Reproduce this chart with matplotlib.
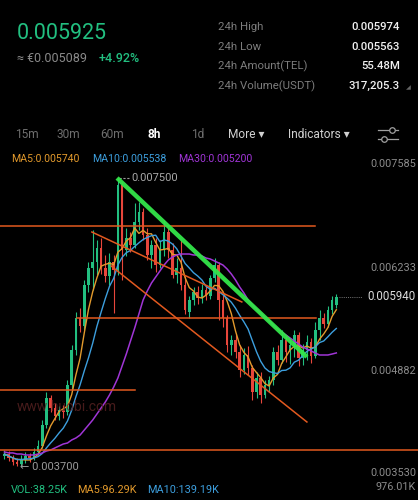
import numpy as np
import pandas as pd
import matplotlib
matplotlib.use("Agg")
import matplotlib.pyplot as plt

# 8h candles, TEL/USDT
opens = [0.003842, 0.003868, 0.003816, 0.003763, 0.003737, 0.003789, 0.003842, 0.003816, 0.003895, 0.003974,
         0.004250, 0.004606, 0.004474, 0.004369, 0.004448, 0.004422, 0.004778, 0.005239, 0.005661, 0.005555,
         0.006096, 0.006320, 0.006399, 0.006583, 0.006320, 0.006214, 0.006399, 0.006293, 0.007414, 0.006557,
         0.006715, 0.006623, 0.006926, 0.007058, 0.006755, 0.006491, 0.006623, 0.006359, 0.006557, 0.006794,
         0.006557, 0.006227, 0.006320, 0.006096, 0.005740, 0.005898, 0.006003, 0.005924, 0.006030, 0.005951,
         0.006188, 0.006359, 0.005898, 0.005661, 0.005305, 0.005371, 0.005213, 0.004975, 0.005173, 0.005002,
         0.004685, 0.004870, 0.004646, 0.004778, 0.004843, 0.005213, 0.005107, 0.005371, 0.005213, 0.005305,
         0.005437, 0.005134, 0.005239, 0.005344, 0.005160, 0.005502, 0.005661, 0.005582, 0.005766, 0.005832]
closes = [0.003868, 0.003816, 0.003763, 0.003737, 0.003789, 0.003842, 0.003816, 0.003895, 0.003974, 0.004250,
          0.004606, 0.004474, 0.004369, 0.004448, 0.004422, 0.004778, 0.005239, 0.005661, 0.005555, 0.006096,
          0.006320, 0.006399, 0.006583, 0.006320, 0.006214, 0.006399, 0.006293, 0.007414, 0.006557, 0.006715,
          0.006623, 0.006926, 0.007058, 0.006755, 0.006491, 0.006623, 0.006359, 0.006557, 0.006794, 0.006557,
          0.006227, 0.006320, 0.006096, 0.005766, 0.005898, 0.006003, 0.005924, 0.006030, 0.005951, 0.006188,
          0.006359, 0.005898, 0.005661, 0.005305, 0.005371, 0.005213, 0.004975, 0.005173, 0.005002, 0.004685,
          0.004870, 0.004646, 0.004778, 0.004843, 0.005213, 0.005107, 0.005371, 0.005213, 0.005305, 0.005437,
          0.005134, 0.005239, 0.005344, 0.005160, 0.005502, 0.005661, 0.005582, 0.005766, 0.005898, 0.005940]
highs = [0.003921, 0.003908, 0.003855, 0.003816, 0.003855, 0.003895, 0.003882, 0.003948, 0.004053, 0.004316,
         0.004685, 0.004646, 0.004540, 0.004501, 0.004514, 0.004843, 0.005305, 0.005740, 0.005793, 0.006162,
         0.006399, 0.006821, 0.006689, 0.006715, 0.006491, 0.006517, 0.006491, 0.007500, 0.007453, 0.006847,
         0.006794, 0.007176, 0.007190, 0.007111, 0.006847, 0.006689, 0.006715, 0.006689, 0.006952, 0.006847,
         0.006649, 0.006451, 0.006689, 0.006214, 0.005951, 0.006069, 0.006082, 0.006109, 0.006096, 0.006227,
         0.006451, 0.006399, 0.005964, 0.005700, 0.005437, 0.005450, 0.005305, 0.005265, 0.005292, 0.005041,
         0.004949, 0.004949, 0.004843, 0.004896, 0.005278, 0.005305, 0.005502, 0.005423, 0.005397, 0.005502,
         0.005476, 0.005318, 0.005437, 0.005397, 0.005608, 0.005766, 0.005727, 0.005819, 0.005951, 0.005977]
lows = [0.003802, 0.003776, 0.003724, 0.003710, 0.003700, 0.003750, 0.003763, 0.003789, 0.003855, 0.003948,
        0.004211, 0.004422, 0.004316, 0.004316, 0.004343, 0.004382, 0.004712, 0.005173, 0.005476, 0.005502,
        0.006003, 0.006030, 0.006227, 0.006241, 0.006135, 0.006096, 0.005727, 0.006227, 0.006162, 0.006478,
        0.006531, 0.006583, 0.006821, 0.006689, 0.006425, 0.006320, 0.006267, 0.006320, 0.006478, 0.006451,
        0.006188, 0.006122, 0.006030, 0.005713, 0.005661, 0.005832, 0.005845, 0.005858, 0.005898, 0.005911,
        0.006135, 0.005634, 0.005542, 0.005213, 0.005173, 0.005134, 0.004883, 0.004923, 0.004910, 0.004580,
        0.004606, 0.004540, 0.004606, 0.004685, 0.004778, 0.005041, 0.005068, 0.005081, 0.005054, 0.005147,
        0.005028, 0.005041, 0.005107, 0.005068, 0.005134, 0.005371, 0.005529, 0.005542, 0.005713, 0.005793]
# MA30 (history before the window is not shown)
ma30 = [0.003895, 0.003882, 0.003882, 0.003868, 0.003868, 0.003855, 0.003855, 0.003855, 0.003868, 0.003882,
        0.003908, 0.003921, 0.003948, 0.003974, 0.004000, 0.004013, 0.004053, 0.004079, 0.004118, 0.004184,
        0.004250, 0.004316, 0.004395, 0.004474, 0.004553, 0.004646, 0.004751, 0.004870, 0.005028, 0.005186,
        0.005358, 0.005529, 0.005713, 0.005898, 0.006017, 0.006122, 0.006201, 0.006280, 0.006359, 0.006425,
        0.006465, 0.006491, 0.006504, 0.006504, 0.006504, 0.006491, 0.006491, 0.006478, 0.006451, 0.006438,
        0.006412, 0.006386, 0.006359, 0.006307, 0.006241, 0.006162, 0.006069, 0.005990, 0.005898, 0.005832,
        0.005779, 0.005727, 0.005674, 0.005621, 0.005568, 0.005516, 0.005476, 0.005437, 0.005397, 0.005358,
        0.005318, 0.005278, 0.005252, 0.005226, 0.005199, 0.005173, 0.005173, 0.005173, 0.005186, 0.005200]

# user drawn lines: (x0, x1, price0, price1) in candle index / price
h_lines = [(-1.1, 74.0, 0.006873, 0.006873),
           (17.3, 74.2, 0.005661, 0.005661),
           (-1.1, 31.0, 0.004712, 0.004712),
           (-1.1, 99.0, 0.003921, 0.003921)]
channel = [(20.8, 56.5, 0.006794, 0.005872),
           (25.4, 72.0, 0.006346, 0.004290)]
trend = (26.8, 72.0, 0.007506, 0.005147)

axis_labels = ["0.007585", "0.006233", "0.004882", "0.003530"]
stats_names = ["24h High", "24h Low", "24h Amount(TEL)", "24h Volume(USDT)"]
stats_values = ["0.005974", "0.005563", "55.48M", "317,205.3"]
tabs = ["15m", "30m", "60m", "8h", "1d", "More ▾", "Indicators ▾"]

GREEN = "#22bf80"
RED = "#e8463b"
ORANGE = "#e2591f"
C_MA5 = "#e39a2c"
C_MA10 = "#3d9fde"
C_MA30 = "#a035d6"
GREY = "#8a8a8a"

plt.rcParams["font.family"] = ["Roboto", "DejaVu Sans"]

W, H = 418, 500
fig = plt.figure(figsize=(W / 100, H / 100), dpi=100, facecolor="black")


def ftext(x, y, s, **kw):
    # place text by pixel position in the figure
    fig.text(x / W, 1 - y / H, s, **kw)


ax = fig.add_axes([0, 0.03, 1, 0.645])
ax.set_facecolor("black")
ax.set_xlim(-1.07, 98.45)
ax.set_ylim(0.0034595, 0.0077102)
ax.axis("off")

df = pd.DataFrame({"open": opens, "close": closes, "high": highs, "low": lows})
df["ma5"] = df["close"].rolling(5, min_periods=1).mean()
df["ma10"] = df["close"].rolling(10, min_periods=1).mean()
df["ma30"] = ma30
idx = np.arange(len(df))

for i, row in df.iterrows():
    col = GREEN if row["close"] >= row["open"] else RED
    ax.vlines(i, row["low"], row["high"], color=col, lw=0.8, zorder=2)
    body = max(abs(row["close"] - row["open"]), 0.000012)
    ax.bar(i, body, bottom=min(row["open"], row["close"]), width=0.62,
           color=col, linewidth=0, zorder=2)

ax.plot(idx, df["ma5"], color=C_MA5, lw=1.0, zorder=3)
ax.plot(idx, df["ma10"], color=C_MA10, lw=1.0, zorder=3)
ax.plot(idx, df["ma30"], color=C_MA30, lw=1.1, zorder=3)

for x0, x1, y0, y1 in h_lines + channel:
    ax.plot([x0, x1], [y0, y1], color=ORANGE, lw=1.1, zorder=4)
ax.plot(trend[:2], trend[2:], color="#33e64a", lw=3.2, alpha=0.95,
        solid_capstyle="butt", zorder=5)

# max / min markers
ax.plot([27.2, 29.8], [0.0075, 0.0075], color="#9a9a9a", lw=0.8, ls=(0, (2, 1.5)), zorder=4)
ax.text(30.3, 0.0075, "0.007500", color="#a8a8a8", fontsize=8, va="center", ha="left", zorder=6)
ax.text(3.7, 0.0037, "← 0.003700", color="#9a9a9a", fontsize=8, va="center", ha="left", zorder=6)
# last price
ax.plot([79.6, 85.0], [0.00594, 0.00594], color="#777777", lw=0.7, ls=(0, (1, 1.2)), zorder=4)
ax.text(0.994, 0.00594, "0.005940", color="#dcdcdc", fontsize=8.3, va="center", ha="right",
        transform=ax.get_yaxis_transform(), zorder=6)

# watermark
ftext(17, 407, "www.huobi.com", color="#5a2222", fontsize=10, va="center", alpha=0.8)

# header
ftext(17, 33, "0.005925", color=GREEN, fontsize=15.5, va="center")
ftext(17, 58, "≈ €0.005089", color=GREY, fontsize=9, va="center")
ftext(99, 58, "+4.92%", color=GREEN, fontsize=9, va="center", fontweight="medium")
for k in range(4):
    y = 27 + k * 19.7
    ftext(218, y, stats_names[k], color="#7c7c7c", fontsize=8.2, va="center")
    ftext(400, y, stats_values[k], color="#f0f0f0", fontsize=8.2, va="center", ha="right",
          fontweight="medium")
ftext(406, 88, "◢", color="#666666", fontsize=4.5, va="center")

# interval tabs
tab_x = [15, 57, 100, 148, 191, 228, 288]
for t, x in zip(tabs, tab_x):
    if t == "8h":
        ftext(x, 134, t, color="white", fontsize=8.6, va="center", fontweight="bold")
    elif t in ("More ▾", "Indicators ▾"):
        ftext(x, 134, t, color="#d0d0d0", fontsize=8.6, va="center")
    else:
        ftext(x, 134, t, color="#6e6e6e", fontsize=8.6, va="center")

# settings icon
fig.add_artist(plt.Line2D([378 / W, 398 / W], [1 - 130 / H, 1 - 130 / H], color="#a0a0a0", lw=0.9))
fig.add_artist(plt.Line2D([378 / W, 398 / W], [1 - 139 / H, 1 - 139 / H], color="#a0a0a0", lw=0.9))
fig.add_artist(plt.Line2D([392 / W], [1 - 130 / H], marker="o", ms=4, mfc="black", mec="#a0a0a0", mew=0.9))
fig.add_artist(plt.Line2D([384 / W], [1 - 139 / H], marker="o", ms=4, mfc="black", mec="#a0a0a0", mew=0.9))

# MA legend
ftext(11, 159, "MA5:0.005740", color=C_MA5, fontsize=7.6, va="center")
ftext(92, 159, "MA10:0.005538", color=C_MA10, fontsize=7.6, va="center")
ftext(178, 159, "MA30:0.005200", color=C_MA30, fontsize=7.6, va="center")

# price axis labels
for lab, y in zip(axis_labels, [164, 268, 371, 473]):
    ftext(416, y, lab, color="#8c8c8c", fontsize=7.8, va="center", ha="right")

# volume row
ftext(11, 490, "VOL:38.25K", color=GREEN, fontsize=7.8, va="center")
ftext(77, 490, "MA5:96.29K", color=C_MA5, fontsize=7.8, va="center")
ftext(147, 490, "MA10:139.19K", color=C_MA10, fontsize=7.8, va="center")
ftext(416, 487, "976.01K", color="#8c8c8c", fontsize=7.8, va="center", ha="right")

fig.savefig("out.png", dpi=100, facecolor="black")
